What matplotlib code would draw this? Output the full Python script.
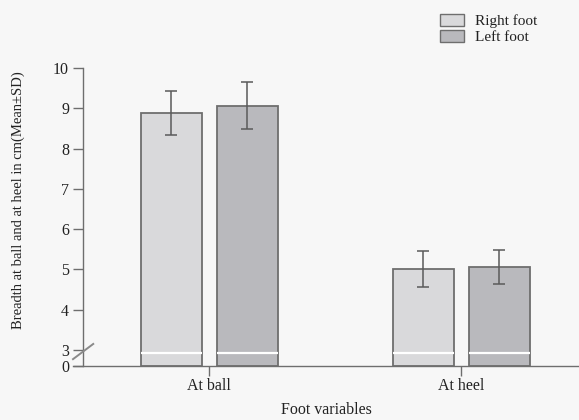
import numpy as np
import matplotlib
matplotlib.use("Agg")
import matplotlib.pyplot as plt
from matplotlib.patches import Patch

categories = ["At ball", "At heel"]
series = ["Right foot", "Left foot"]
right_mean = [8.88, 5.00]
right_sd = [0.55, 0.45]
left_mean = [9.06, 5.06]
left_sd = [0.58, 0.43]
ytick_vals = [0, 3, 4, 5, 6, 7, 8, 9, 10]

plt.rcParams["font.family"] = ["Liberation Serif", "DejaVu Serif"]
bg = "#f7f7f7"
ink = "#222222"
edge = "#6e6e6e"
fills = ["#d9d9db", "#b9b9bd"]

# broken axis: 0..3 squeezed into 0.4 units
def fwd(v):
    v = np.asarray(v, dtype=float)
    return np.where(v < 3, 2.6 + v * 0.4 / 3, v)

def inv(u):
    u = np.asarray(u, dtype=float)
    return np.where(u < 3, (u - 2.6) * 7.5, u)

fig = plt.figure(figsize=(5.79, 4.2), dpi=100, facecolor=bg)
ax = fig.add_axes([73 / 579, 1 - 366 / 420, 506 / 579, 298 / 420], facecolor=bg)
ax.set_yscale("function", functions=(fwd, inv))

x = np.arange(len(categories))
w = 0.242
off = 0.151
bars = []
for i, (m, sd) in enumerate([(right_mean, right_sd), (left_mean, left_sd)]):
    pos = x + (off if i else -off)
    b = ax.bar(pos, m, width=w, color=fills[i], edgecolor=edge, linewidth=1.3, zorder=2)
    ax.errorbar(pos, m, yerr=sd, fmt="none", ecolor="#5a5a5a", elinewidth=1.1,
                capsize=4.5, capthick=1.1, zorder=3)
    bars.extend(b.patches)

# white break stripe across the bars
brk = 2.5
for p in bars:
    ax.plot([p.get_x(), p.get_x() + p.get_width()], [brk, brk],
            color="white", lw=1.6, zorder=4, solid_capstyle="butt")

ax.set_xlim(-0.54, 1.468)
ax.set_ylim(0, 10)
ax.set_yticks(ytick_vals)
ax.set_yticklabels([str(v) for v in ytick_vals])
ax.yaxis.set_minor_locator(matplotlib.ticker.NullLocator())
for t, v in zip(ax.yaxis.get_major_ticks(), ytick_vals):
    if v < 4:
        t.tick1line.set_visible(False)
ax.set_xticks(x)
ax.set_xticklabels(categories)

for s in ["top", "right"]:
    ax.spines[s].set_visible(False)
ax.spines["left"].set_position(("axes", 10 / 506))
for s in ["left", "bottom"]:
    ax.spines[s].set_color(edge)
    ax.spines[s].set_linewidth(1.0)
ax.tick_params(axis="y", length=7, width=1, color=edge, labelsize=11.5, labelcolor=ink, pad=3)
ax.tick_params(axis="x", length=7, width=1, color=edge, labelsize=11.5, labelcolor=ink, pad=1.5)

# break slash on the axis
ax.plot([0, 0.04], [0.023, 0.074], transform=ax.transAxes, color="#8a8a8a",
        lw=1.4, clip_on=False, zorder=5)

ax.set_xlabel("Foot variables", fontsize=11.5, color=ink, labelpad=6)
ax.set_ylabel("Breadth at ball and at heel in cm(Mean±SD)", fontsize=10.5, color=ink)
ax.yaxis.set_label_coords(-0.095, 0.557)

handles = [Patch(facecolor=fills[i], edgecolor=edge, linewidth=1.0) for i in range(2)]
fig.legend(handles, series, loc="upper left", bbox_to_anchor=(0.736, 1.0),
           frameon=False, fontsize=11, handlelength=1.6, handleheight=0.85,
           labelspacing=0.1, handletextpad=0.7, labelcolor=ink)

fig.savefig("out.png", dpi=100, facecolor=bg)
